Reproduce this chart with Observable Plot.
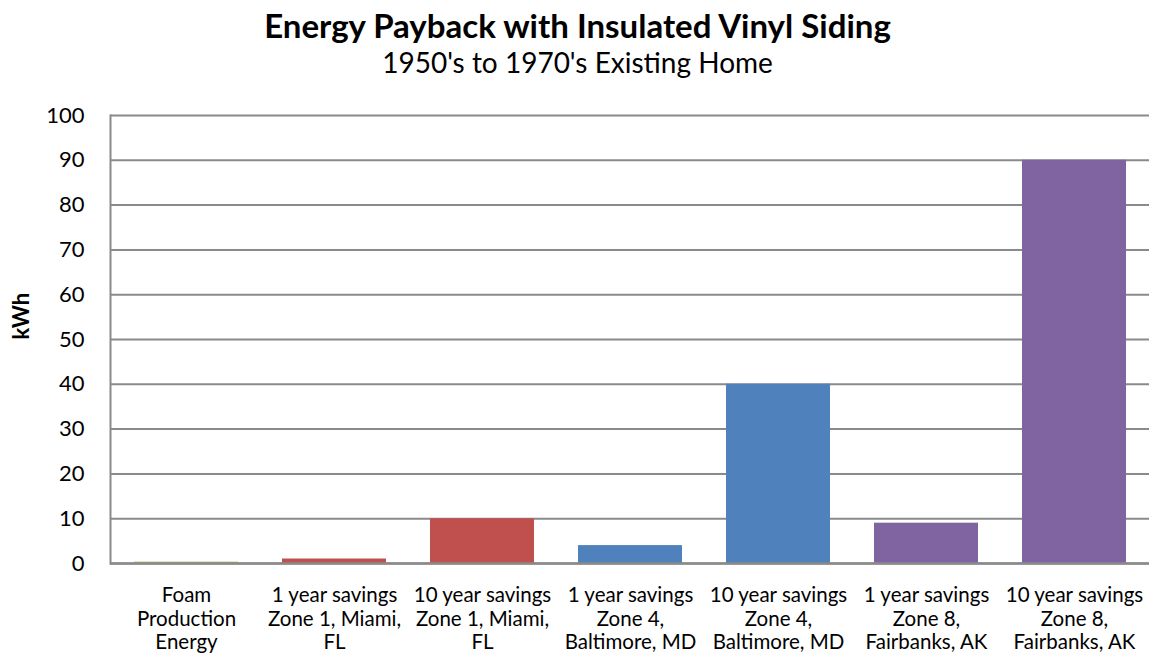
<!DOCTYPE html>
<html>
<head>
<meta charset="utf-8">
<script src="https://cdn.jsdelivr.net/npm/d3@7"></script>
<script src="https://cdn.jsdelivr.net/npm/@observablehq/plot@0.6"></script>
<style>
  html, body { margin: 0; padding: 0; background: #fff; }
  body { width: 1155px; height: 668px; overflow: hidden; font-family: Lato, "Open Sans", sans-serif; }
  #head { height: 95px; text-align: center; color: #000; }
  #title { font-weight: bold; font-size: 33px; line-height: 36px; padding-top: 7px; }
  #subtitle { font-size: 28px; line-height: 34px; margin-top: 2px; }
</style>
</head>
<body>
<div id="head">
  <div id="title">Energy Payback with Insulated Vinyl Siding</div>
  <div id="subtitle">1950's to 1970's Existing Home</div>
</div>
<div id="chart"></div>
<script>
// Categories (x-axis labels, one line per "\n")
const categories = [
  "Foam\nProduction\nEnergy",
  "1 year savings\nZone 1, Miami,\nFL",
  "10 year savings\nZone 1, Miami,\nFL",
  "1 year savings\nZone 4,\nBaltimore, MD",
  "10 year savings\nZone 4,\nBaltimore, MD",
  "1 year savings\nZone 8,\nFairbanks, AK",
  "10 year savings\nZone 8,\nFairbanks, AK"
];
// Energy in kWh for each category
const values = [0.3, 1, 10, 4, 40, 9, 90];
// Fill per bar: production, Miami, Baltimore, Fairbanks
const barColors = ["#9BBB59", "#C0504D", "#C0504D", "#4F81BD", "#4F81BD", "#8064A2", "#8064A2"];
// Y-axis ticks
const yTicks = [0, 10, 20, 30, 40, 50, 60, 70, 80, 90, 100];

const data = categories.map((c, i) => ({category: c, kwh: values[i], color: barColors[i]}));

const grid = "#8a8a8a";

const chart = Plot.plot({
  width: 1155,
  height: 573,
  marginTop: 20,
  marginBottom: 105,
  marginLeft: 110,
  marginRight: 6,
  style: {fontFamily: "Lato, 'Open Sans', sans-serif", color: "#000", background: "#fff"},
  x: {domain: categories, paddingInner: 0.3, paddingOuter: 0.15},
  y: {domain: [0, 100]},
  marks: [
    Plot.ruleY(yTicks, {stroke: grid, strokeWidth: 2}),
    Plot.barY(data, {x: "category", y: "kwh", fill: "color"}),
    Plot.frame({anchor: "left", stroke: grid, strokeWidth: 2}),
    Plot.ruleY([0], {stroke: grid, strokeWidth: 2.5}),
    Plot.axisY({ticks: yTicks, tickSize: 0, tickPadding: 26, fontSize: 22, label: null}),
    Plot.text(["kWh"], {frameAnchor: "left", dx: -89, rotate: -90, fontWeight: "bold", fontSize: 22}),
    Plot.axisX({tickSize: 0, tickPadding: 22, fontSize: 20.5, lineHeight: 1.15, label: null})
  ]
});
document.getElementById("chart").appendChild(chart);
</script>
</body>
</html>
